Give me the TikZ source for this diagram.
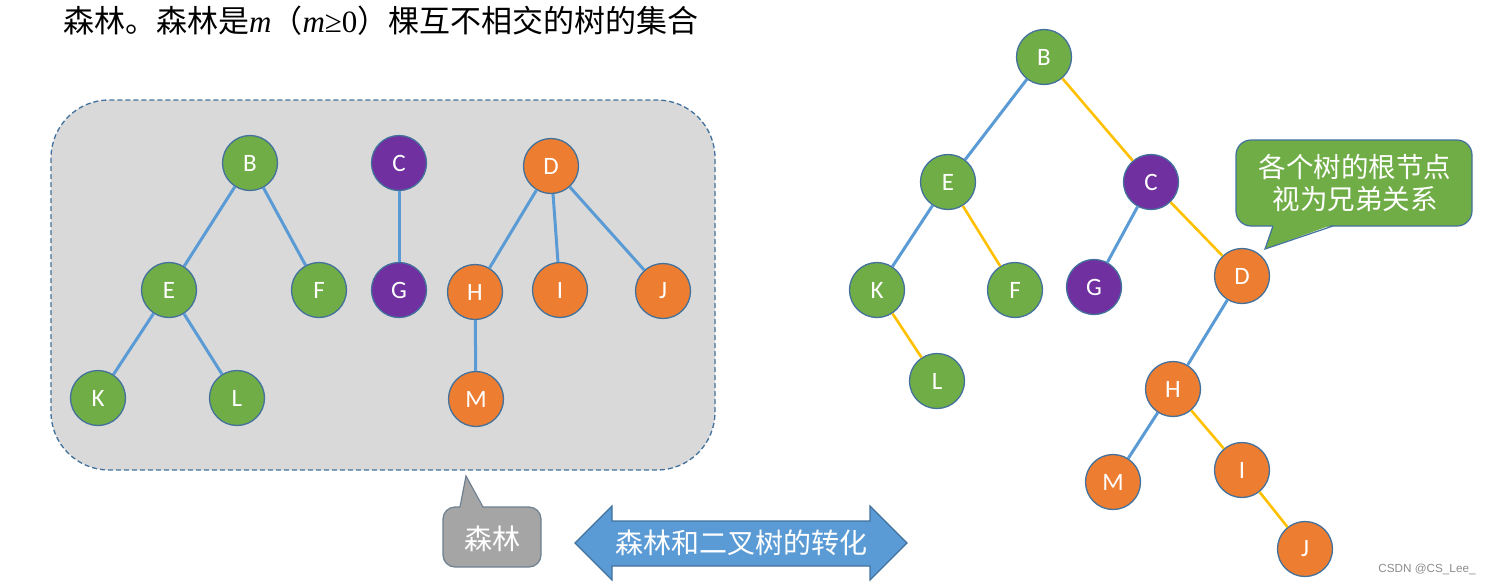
\documentclass[tikz,border=0pt]{standalone}
\usepackage{fontspec}
\setmainfont{Liberation Serif}
\newfontfamily\cjk{Noto Sans CJK SC}
\newfontfamily\lat{Carlito}
\newfontfamily\wm{Liberation Sans}
\definecolor{tgreen}{HTML}{70AD47}
\definecolor{tpurple}{HTML}{7030A0}
\definecolor{torange}{HTML}{ED7D31}
\definecolor{tborder}{HTML}{41719C}
\definecolor{tblue}{HTML}{5B9BD5}
\definecolor{tyellow}{HTML}{FFC000}
\definecolor{tgrayfill}{HTML}{D9D9D9}
\definecolor{tcallgray}{HTML}{A5A5A5}
\definecolor{tcallborder}{HTML}{6D7F91}
\tikzset{
  tn/.style={circle, draw=tborder, line width=1.3pt, minimum size=55pt, inner sep=0pt, text=white, font=\lat\fontsize{25}{25}\selectfont},
  gn/.style={tn, fill=tgreen},
  pn/.style={tn, fill=tpurple},
  on/.style={tn, fill=torange},
  be/.style={draw=tblue, line width=3pt},
  ye/.style={draw=tyellow, line width=2.6pt},
}
\begin{document}
\begin{tikzpicture}[x=1pt,y=-1pt]
\useasboundingbox (0,0) rectangle (1492,584);
% title
\node[anchor=west, inner sep=0pt, font=\fontsize{31}{31}\selectfont] (title) at (63,21)
  {{\cjk 森林。森林是}\textit{m}{\cjk （}\textit{m}≥0{\cjk ）棵互不相交的树的集合}};
% forest box
\draw[fill=tgrayfill, draw=tborder, line width=1.3pt, dashed, dash pattern=on 5pt off 3pt, rounded corners=58pt] (51,100) rectangle (715,470);
% left forest nodes
\node[gn] (B1) at (250,163) {B};
\node[gn] (E1) at (169,290) {E};
\node[gn] (F1) at (319,290) {F};
\node[gn] (K1) at (98,398) {K};
\node[gn] (L1) at (237,398) {L};
\node[pn] (C1) at (399,163) {C};
\node[pn] (G1) at (399,290) {G};
\node[on] (D1) at (551,166) {D};
\node[on] (H1) at (475,292) {H};
\node[on] (I1) at (560,290) {I};
\node[on] (J1) at (663,291) {J};
\node[on] (M1) at (476,399) {M};
\draw[be] (B1) -- (E1);
\draw[be] (B1) -- (F1);
\draw[be] (E1) -- (K1);
\draw[be] (E1) -- (L1);
\draw[be] (C1) -- (G1);
\draw[be] (D1) -- (H1);
\draw[be] (D1) -- (I1);
\draw[be] (D1) -- (J1);
\draw[be] (H1) -- (M1);
% right binary tree
\node[gn] (B2) at (1044,57) {B};
\node[gn] (E2) at (948,182) {E};
\node[pn] (C2) at (1151,182) {C};
\node[gn] (K2) at (877,290) {K};
\node[gn] (F2) at (1015,290) {F};
\node[pn] (G2) at (1094,287) {G};
\node[on] (D2) at (1242,276) {D};
\node[gn] (L2) at (937,381) {L};
\node[on] (H2) at (1173,389) {H};
\node[on] (M2) at (1113,482) {M};
\node[on] (I2) at (1242,470) {I};
\node[on] (J2) at (1305,549) {J};
\draw[be] (B2) -- (E2);
\draw[ye] (B2) -- (C2);
\draw[be] (E2) -- (K2);
\draw[ye] (E2) -- (F2);
\draw[be] (C2) -- (G2);
\draw[ye] (C2) -- (D2);
\draw[ye] (K2) -- (L2);
\draw[be] (D2) -- (H2);
\draw[be] (H2) -- (M2);
\draw[ye] (H2) -- (I2);
\draw[ye] (I2) -- (J2);
% gray callout
\draw[fill=tcallgray, draw=tcallborder, line width=1.2pt, rounded corners=12pt] (443,507) rectangle (541,567);
\fill[tcallgray] (460,508.5) -- (466,476) -- (483,508.5) -- cycle;
\draw[draw=tcallborder, line width=1.2pt, line join=miter] (460,507) -- (466,476) -- (483,507);
\node[text=white, font=\cjk\fontsize{28}{28}\selectfont, inner sep=0pt] (forestlabel) at (492,539) {森林};
% double arrow
\draw[fill=tblue, draw=tborder, line width=1.2pt, line join=miter]
  (575,543) -- (612,506) -- (612,521) -- (870,521) -- (870,506) -- (907,543)
  -- (870,580) -- (870,566) -- (612,566) -- (612,580) -- cycle;
\node[text=white, font=\cjk\fontsize{28}{28}\selectfont, inner sep=0pt] (convlabel) at (741,543) {森林和二叉树的转化};
% green callout
\draw[fill=tgreen, draw=tborder, line width=1.2pt, rounded corners=15pt] (1236,140) rectangle (1472,226);
\fill[tgreen] (1273,224.5) -- (1265,249) -- (1333,224.5) -- cycle;
\draw[draw=tborder, line width=1.2pt, line join=miter] (1273,226) -- (1265,249) -- (1333,226);
\node[text=white, font=\cjk\fontsize{27.5}{32}\selectfont, align=center, inner sep=0pt] (rootlabel) at (1355,183) {各个树的根节点\\视为兄弟关系};
% watermark
\node[text=black!45, font=\wm\fontsize{11.7}{11.7}\selectfont, inner sep=0pt] (wm) at (1427,569) {CSDN @CS\_Lee\_};
\end{tikzpicture}
\end{document}
